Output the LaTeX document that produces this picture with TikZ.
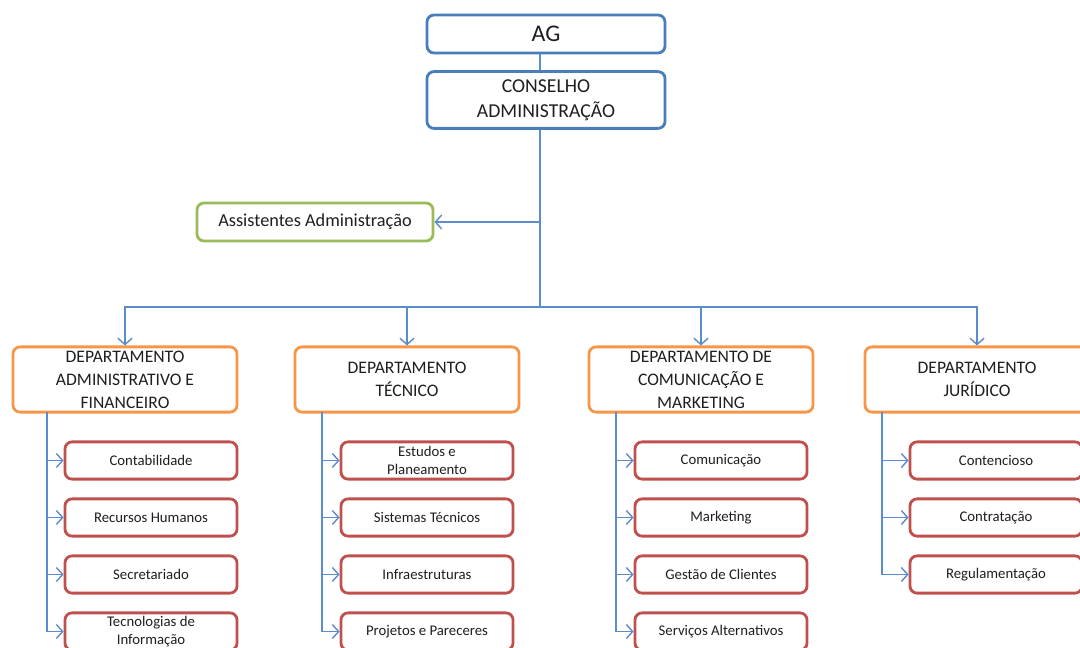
\documentclass[tikz,border=0pt]{standalone}
\usepackage{fontspec}
\setmainfont{Carlito}
\usepackage{tikz}
\usetikzlibrary{arrows.meta}

\definecolor{boxblue}{HTML}{4A7EBB}
\definecolor{lineblue}{HTML}{5B8CCB}
\definecolor{boxgreen}{HTML}{9BBB59}
\definecolor{boxorange}{HTML}{F79646}
\definecolor{boxred}{HTML}{C0504D}
\definecolor{txt}{HTML}{1F1F1F}

\begin{document}
\begin{tikzpicture}[
    x=0.025cm, y=-0.025cm,
    box/.style={draw, line width=2pt, rounded corners=5pt, inner sep=0pt, align=center, text=txt, fill=white},
    chief/.style={box, draw=boxblue, minimum width=5.95cm, minimum height=0.95cm, font=\fontsize{17}{20}\selectfont},
    board/.style={box, draw=boxblue, minimum width=5.95cm, minimum height=1.42cm, font=\fontsize{14}{17.8}\selectfont},
    assist/.style={box, draw=boxgreen, minimum width=5.9cm, minimum height=0.95cm, font=\fontsize{13}{16}\selectfont},
    dept/.style={box, draw=boxorange, minimum width=5.6cm, minimum height=1.63cm, font=\fontsize{12.5}{16.4}\selectfont},
    unit/.style={box, draw=boxred, minimum width=4.3cm, minimum height=0.93cm, font=\fontsize{10.5}{12.8}\selectfont},
    link/.style={draw=lineblue, line width=1pt},
    arrowlink/.style={link, -{Straight Barb[length=4.5pt,width=10pt]}},
]
\useasboundingbox (0,0) rectangle (1080,648);

% top
\node[chief] (ag) at (546,34) {AG};
\node[board] (cons) at (546,100) {CONSELHO\\ADMINISTRAÇÃO};
\node[assist] (assist) at (315,222) {Assistentes Administração};

\coordinate (asj) at (540,222);
\coordinate (bus) at (540,307);

\draw[link] (ag.south -| bus) -- (cons.north -| bus);
\draw[link] (cons.south -| bus) -- (bus);
\draw[arrowlink] (asj) -- (assist);

% departments
\node[dept] (d1) at (125,379.5) {DEPARTAMENTO\\ADMINISTRATIVO E\\FINANCEIRO};
\node[dept] (d2) at (407,379.5) {DEPARTAMENTO\\TÉCNICO};
\node[dept] (d3) at (701,379.5) {DEPARTAMENTO DE\\COMUNICAÇÃO E\\MARKETING};
\node[dept] (d4) at (977,379.5) {DEPARTAMENTO\\JURÍDICO};

\draw[arrowlink] (bus) -| (d1);
\draw[arrowlink] (bus) -| (d2);
\draw[arrowlink] (bus) -| (d3);
\draw[arrowlink] (bus) -| (d4);

% units d1
\node[unit] (u11) at (151,460.5) {Contabilidade};
\node[unit] (u12) at (151,517.5) {Recursos Humanos};
\node[unit] (u13) at (151,574.5) {Secretariado};
\node[unit] (u14) at (151,631.5) {Tecnologias de\\Informação};

% units d2
\node[unit] (u21) at (427,460.5) {Estudos e\\Planeamento};
\node[unit] (u22) at (427,517.5) {Sistemas Técnicos};
\node[unit] (u23) at (427,574.5) {Infraestruturas};
\node[unit] (u24) at (427,631.5) {Projetos e Pareceres};

% units d3
\node[unit] (u31) at (721,460.5) {Comunicação};
\node[unit] (u32) at (721,517.5) {Marketing};
\node[unit] (u33) at (721,574.5) {Gestão de Clientes};
\node[unit] (u34) at (721,631.5) {Serviços Alternativos};

% units d4
\node[unit] (u41) at (996,460.5) {Contencioso};
\node[unit] (u42) at (996,517.5) {Contratação};
\node[unit] (u43) at (996,574.5) {Regulamentação};

% spines
\coordinate (s1) at (47,412);
\coordinate (s2) at (322,412);
\coordinate (s3) at (616,412);
\coordinate (s4) at (882,412);

\draw[arrowlink] (s1) |- (u11);
\draw[arrowlink] (s1) |- (u12);
\draw[arrowlink] (s1) |- (u13);
\draw[arrowlink] (s1) |- (u14);

\draw[arrowlink] (s2) |- (u21);
\draw[arrowlink] (s2) |- (u22);
\draw[arrowlink] (s2) |- (u23);
\draw[arrowlink] (s2) |- (u24);

\draw[arrowlink] (s3) |- (u31);
\draw[arrowlink] (s3) |- (u32);
\draw[arrowlink] (s3) |- (u33);
\draw[arrowlink] (s3) |- (u34);

\draw[arrowlink] (s4) |- (u41);
\draw[arrowlink] (s4) |- (u42);
\draw[arrowlink] (s4) |- (u43);

\end{tikzpicture}
\end{document}
